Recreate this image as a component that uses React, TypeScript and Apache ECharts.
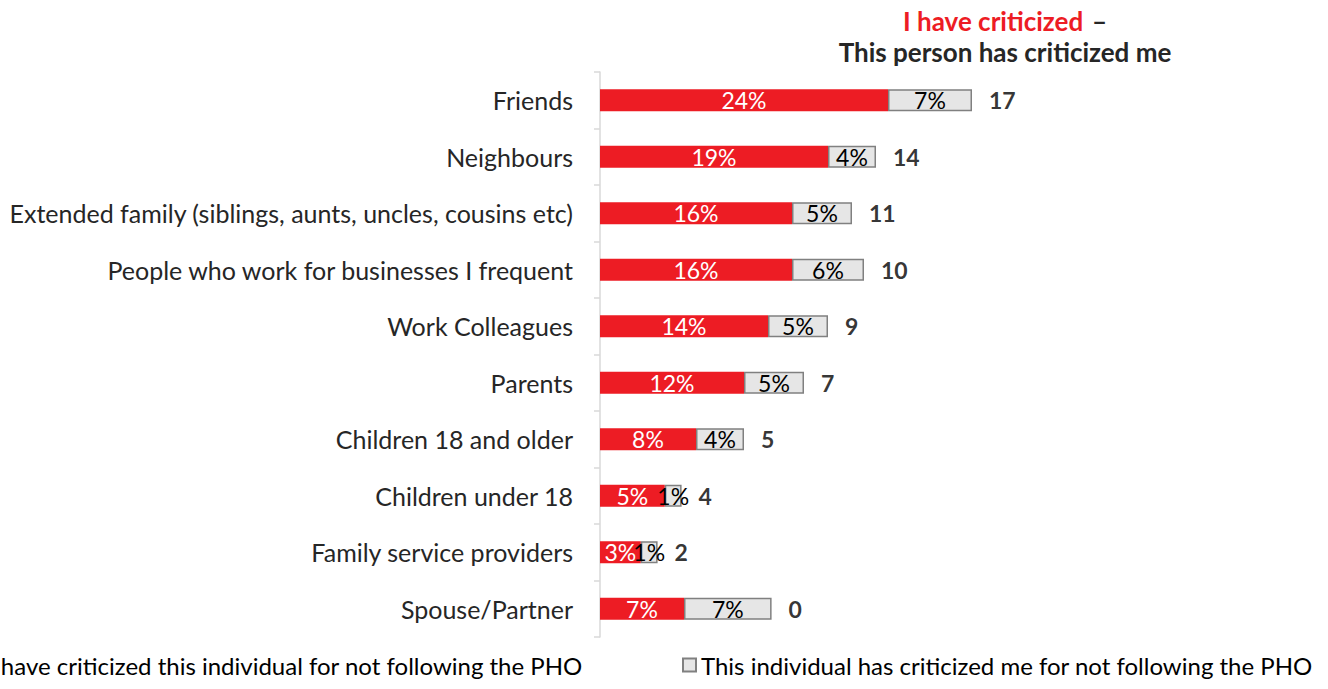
import React, { useEffect, useRef } from "react";
import * as echarts from "echarts";

const categories = [
  "Friends",
  "Neighbours",
  "Extended family (siblings, aunts, uncles, cousins etc)",
  "People who work for businesses I frequent",
  "Work Colleagues",
  "Parents",
  "Children 18 and older",
  "Children under 18",
  "Family service providers",
  "Spouse/Partner",
];
const iHaveCriticized = [24, 19, 16, 16, 14, 12, 8, 5.4, 3.4, 7];
const criticizedMe = [7, 4, 5, 6, 5, 5, 4, 1.4, 1.4, 7.3];
const differences = [17, 14, 11, 10, 9, 7, 5, 4, 2, 0];
const seriesNames = [
  "I have criticized this individual for not following the PHO",
  "This individual has criticized me for not following the PHO",
];

const FONT = "Lato, sans-serif";

export default function App() {
  const ref = useRef<HTMLDivElement>(null);
  useEffect(() => {
    if (!ref.current) return;
    const chart = echarts.init(ref.current, undefined, { renderer: "svg" });
    const pct = (p: any) => Math.round(p.value) + "%";
    const legendText = { fontSize: 24, color: "#000", fontFamily: FONT };
    chart.setOption({
      animation: false,
      textStyle: { fontFamily: FONT },
      title: {
        left: 1000,
        top: 0,
        textAlign: "center",
        text: "{r|I have criticized}  {d|–}\n{d|This person has criticized me}",
        textStyle: {
          rich: {
            r: { color: "#ed1c24", fontWeight: "bold", fontSize: 26, fontFamily: FONT, lineHeight: 31 },
            d: { color: "#262626", fontWeight: "bold", fontSize: 26, fontFamily: FONT, lineHeight: 31 },
          },
        },
      },
      legend: [
        {
          left: -35,
          top: 648,
          itemWidth: 13,
          itemHeight: 13,
          itemGap: 5,
          icon: "rect",
          textStyle: legendText,
          data: [{ name: seriesNames[0] }],
        },
        {
          left: 677,
          top: 648,
          itemWidth: 13,
          itemHeight: 13,
          itemGap: 5,
          icon: "rect",
          textStyle: legendText,
          data: [{ name: seriesNames[1] }],
        },
      ],
      grid: { left: 600, top: 72, width: 720, height: 565, containLabel: false },
      xAxis: {
        type: "value",
        min: 0,
        max: 60,
        show: false,
      },
      yAxis: {
        type: "category",
        data: categories,
        inverse: true,
        axisLine: { show: true, lineStyle: { color: "#d9d9d9", width: 1.5 } },
        axisTick: { show: true, length: 6, lineStyle: { color: "#d9d9d9", width: 1.5 } },
        axisLabel: { fontSize: 25, color: "#262626", margin: 27, fontFamily: FONT },
      },
      series: [
        {
          name: seriesNames[0],
          type: "bar",
          stack: "a",
          barWidth: 22,
          data: iHaveCriticized,
          itemStyle: { color: "#ed1c24" },
          label: { show: true, position: "inside", color: "#fff", fontSize: 23, formatter: pct, fontFamily: FONT },
        },
        {
          name: seriesNames[1],
          type: "bar",
          stack: "a",
          barWidth: 22,
          data: criticizedMe,
          itemStyle: { color: "#e6e6e6", borderColor: "#808080", borderWidth: 1.5 },
          label: { show: true, position: "inside", color: "#000", fontSize: 23, formatter: pct, fontFamily: FONT },
        },
        {
          name: "diff",
          type: "scatter",
          symbolSize: 0,
          data: categories.map((c, i) => ({
            value: [iHaveCriticized[i] + criticizedMe[i], c],
            diff: differences[i],
          })),
          label: {
            show: true,
            position: "right",
            distance: 17,
            color: "#000",
            fontWeight: "bold",
            fontSize: 23,
            fontFamily: FONT,
            formatter: (p: any) => String(p.data.diff),
          },
          silent: true,
        },
      ],
    });
    return () => chart.dispose();
  }, []);
  return (
    <div
      ref={ref}
      style={{ position: "fixed", left: 0, top: 0, width: 1328, height: 689, background: "#fff" }}
    />
  );
}
